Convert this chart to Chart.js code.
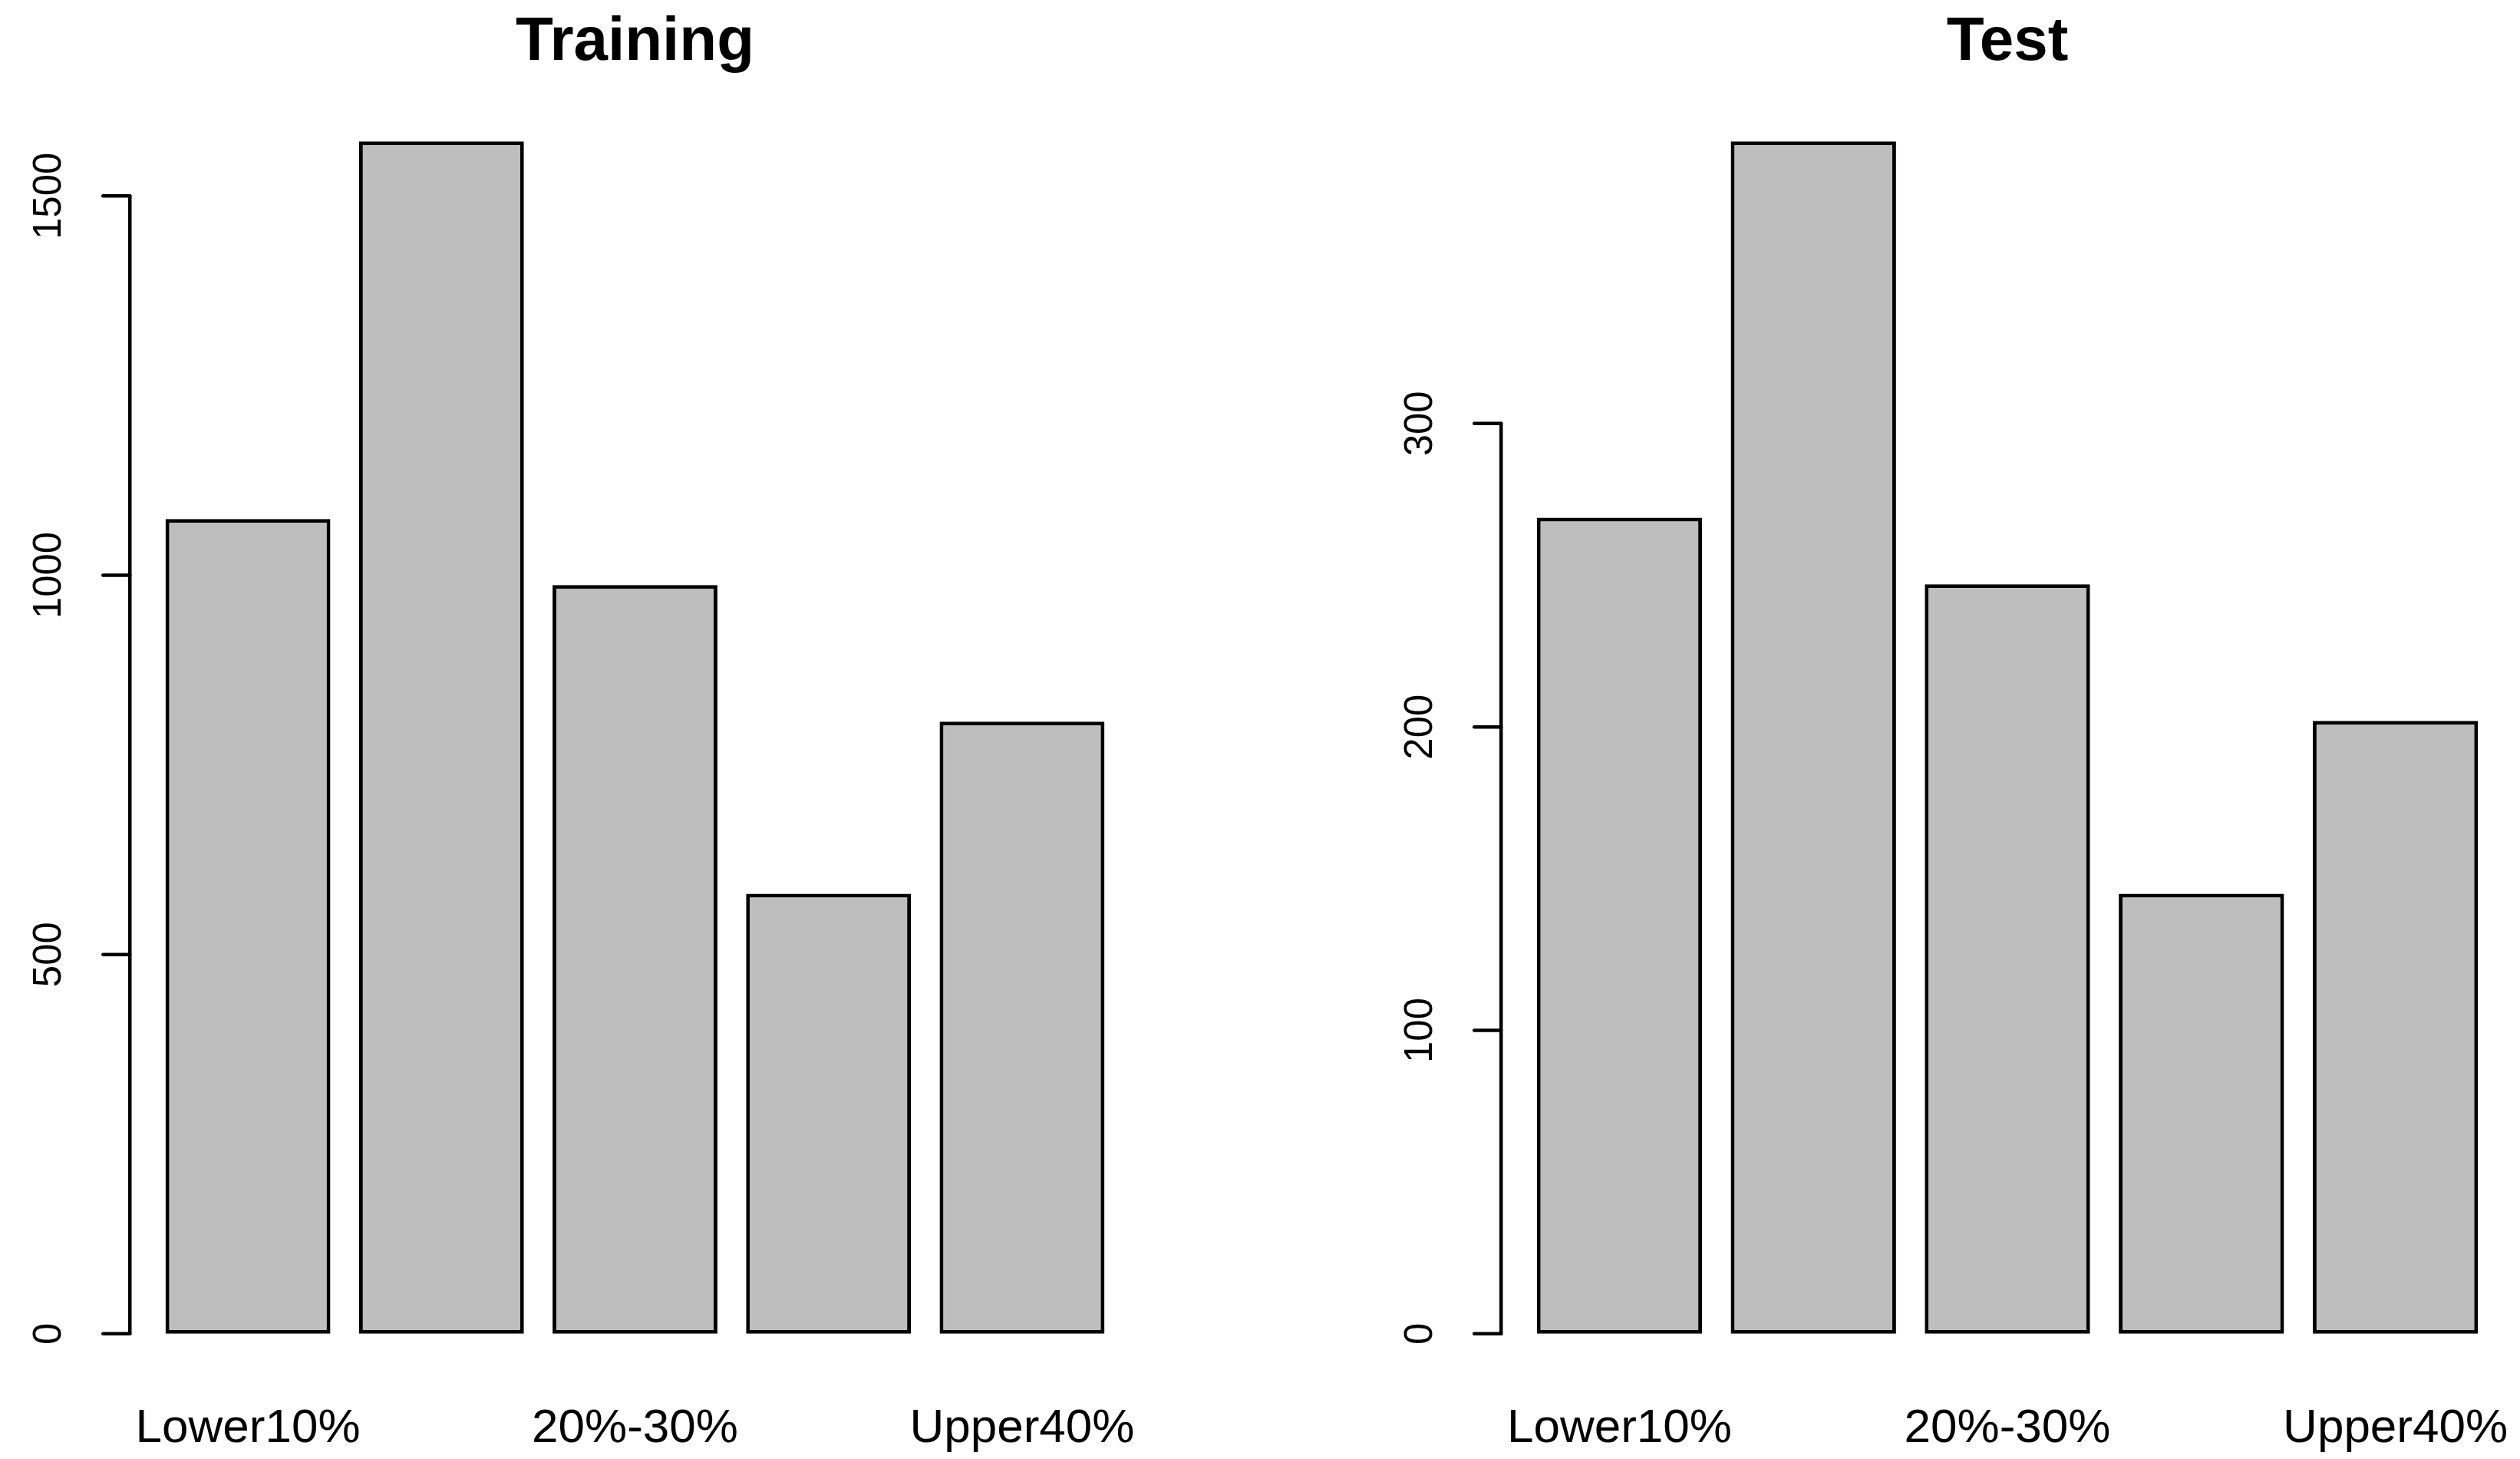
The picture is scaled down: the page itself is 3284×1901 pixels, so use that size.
<!DOCTYPE html>
<html>
<head>
<meta charset="utf-8">
<script src="https://cdn.jsdelivr.net/npm/chart.js@4.4.1/dist/chart.umd.min.js"></script>
<style>
html,body{margin:0;padding:0;background:#ffffff;}
#wrap{position:relative;width:3284px;height:1901px;background:#ffffff;}
canvas{position:absolute;left:0;top:0;}
</style>
</head>
<body>
<div id="wrap">
<canvas id="c1" width="3284" height="1901"></canvas>
<canvas id="c2" width="3284" height="1901"></canvas>
</div>
<script>
// ---- data ----
const categories = ["Lower10%", "10%-20%", "20%-30%", "30%-40%", "Upper40%"];
const shownLabelIdx = [0, 2, 4];            // R drops overlapping names
const trainingCounts = [1074, 1572, 987, 580, 807];
const testCounts = [269, 393, 247, 145, 202];
const trainingTicks = [0, 500, 1000, 1500];
const testTicks = [0, 100, 200, 300];
const panelTitles = ["Training", "Test"];

const FONT = "'Liberation Sans', Arial, Helvetica, sans-serif";

const rAxesPlugin = {
  id: 'rAxes',
  afterDraw(chart, args, opts) {
    const ctx = chart.ctx;
    const xs = chart.scales.x, ys = chart.scales.y;
    const ca = chart.chartArea;
    const axisX = xs.getPixelForValue(-0.61);
    const rightX = xs.getPixelForValue(categories.length - 1 + 0.61);
    ctx.save();
    ctx.strokeStyle = '#000';
    ctx.fillStyle = '#000';
    ctx.lineWidth = 4.5;
    ctx.lineCap = 'round';
    // axis line
    const t = opts.ticks;
    const y0 = ys.getPixelForValue(t[0]);
    const y1 = ys.getPixelForValue(t[t.length - 1]);
    ctx.beginPath();
    ctx.moveTo(axisX, y0);
    ctx.lineTo(axisX, y1);
    ctx.stroke();
    // ticks + labels
    ctx.font = '51px ' + FONT;
    ctx.textAlign = 'center';
    ctx.textBaseline = 'middle';
    t.forEach(v => {
      const py = ys.getPixelForValue(v);
      ctx.beginPath();
      ctx.moveTo(axisX, py);
      ctx.lineTo(axisX - 35, py);
      ctx.stroke();
      ctx.save();
      ctx.translate(axisX - 104, py);
      ctx.rotate(-Math.PI / 2);
      ctx.fillText(String(v), 0, 0);
      ctx.restore();
    });
    // category names
    ctx.font = '62px ' + FONT;
    shownLabelIdx.forEach(i => {
      ctx.fillText(categories[i], xs.getPixelForValue(i), ca.bottom + 62);
    });
    // title
    ctx.font = 'bold 80px ' + FONT;
    ctx.fillText(opts.title, (axisX + rightX) / 2, 56);
    ctx.restore();
  }
};

function makeChart(id, values, ticks, title, pad) {
  const maxV = Math.max(...values);
  return new Chart(document.getElementById(id), {
    type: 'bar',
    data: {
      labels: categories,
      datasets: [{
        data: values,
        backgroundColor: '#BEBEBE',
        borderColor: '#000000',
        borderWidth: 5,
        borderSkipped: false,
        categoryPercentage: 1.0,
        barPercentage: 0.852
      }]
    },
    options: {
      responsive: false,
      animation: false,
      devicePixelRatio: 1,
      layout: { padding: pad },
      scales: {
        x: { display: false, offset: true },
        y: { display: false, min: -0.04 * maxV, max: 1.04 * maxV }
      },
      plugins: {
        legend: { display: false },
        tooltip: { enabled: false },
        title: { display: false },
        rAxes: { ticks: ticks, title: title }
      }
    },
    plugins: [rAxesPlugin]
  });
}

makeChart('c1', trainingCounts, trainingTicks, panelTitles[0],
  { left: 197, right: 3284 - 1458, top: 122, bottom: 101 });
makeChart('c2', testCounts, testTicks, panelTitles[1],
  { left: 1984, right: 3284 - 3248, top: 122, bottom: 101 });
</script>
</body>
</html>
